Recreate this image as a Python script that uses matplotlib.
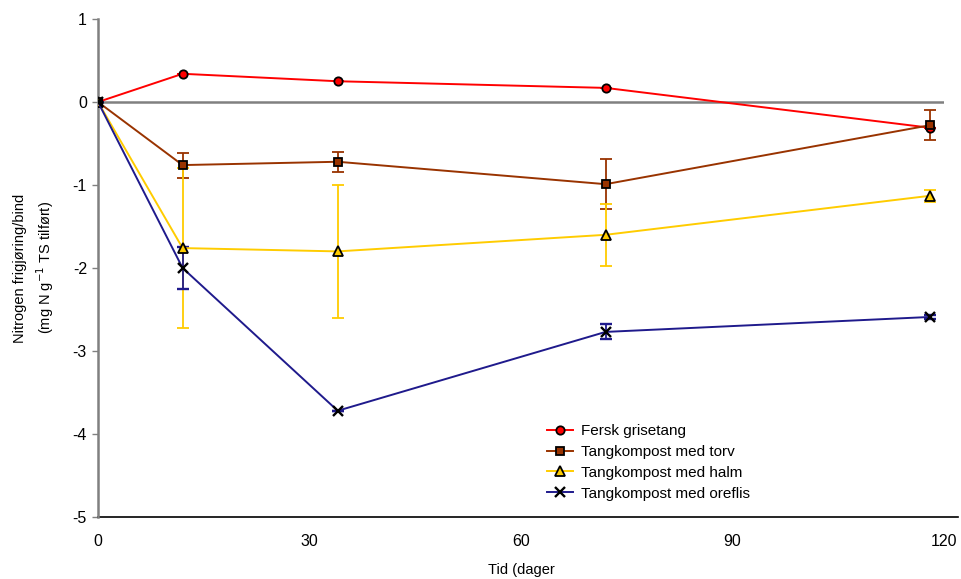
import matplotlib
matplotlib.use("Agg")
import matplotlib.pyplot as plt
from matplotlib.lines import Line2D

plt.rcParams['font.family'] = ['Liberation Sans', 'DejaVu Sans']

days = [0, 12, 34, 72, 118]

labels = ["Fersk grisetang", "Tangkompost med torv",
          "Tangkompost med halm", "Tangkompost med oreflis"]

fersk = [0, 0.34, 0.25, 0.17, -0.31]
fersk_err = [0, 0, 0, 0, 0]

torv = [0, -0.76, -0.72, -0.99, -0.28]
torv_err = [0, 0.15, 0.12, 0.30, 0.18]

halm = [0, -1.76, -1.80, -1.60, -1.13]
halm_err = [0, 0.96, 0.80, 0.37, 0.07]

oreflis = [0, -2.00, -3.72, -2.77, -2.59]
oreflis_err = [0, 0.25, 0.0, 0.09, 0.02]

xticks = [0, 30, 60, 90, 120]
yticks = [-5, -4, -3, -2, -1, 0, 1]

fig = plt.figure(figsize=(9.62, 5.79), dpi=100)
ax = fig.add_axes([98/962, 1-517/579, (944-98)/962, (517-19)/579])

series = [
    (fersk, fersk_err, '#FF0000', '#FF0000', 'o', 6),
    (torv, torv_err, '#993300', '#993300', 's', 6),
    (halm, halm_err, '#FFCC00', '#FFCC00', '^', 6.5),
    (oreflis, oreflis_err, '#1F1A8C', 'none', 'x', 7),
]

handles = []
for (vals, errs, col, fc, mk, ms), lab in zip(series, labels):
    mew = 1.3 if mk != 'x' else 1.7
    ax.errorbar(days, vals, yerr=errs, color=col, ecolor=col, elinewidth=1.3,
                capsize=4, capthick=1.3, lw=1.4, marker=mk, ms=ms,
                mfc=fc, mec='black', mew=mew, zorder=3)
    handles.append(Line2D([], [], color=col, lw=1.4, marker=mk, ms=ms,
                          mfc=fc, mec='black', mew=mew, label=lab))

ax.axhline(0, color='#808080', lw=1.8, zorder=1)

ax.set_xlim(0, 120)
ax.set_ylim(-5, 1)
ax.set_xticks(xticks)
ax.set_yticks(yticks)
ax.set_xticklabels([str(t) for t in xticks], fontsize=11.5)
ax.set_yticklabels([str(t) for t in yticks], fontsize=11.5)
ax.tick_params(axis='x', length=0, pad=12)
ax.tick_params(axis='y', length=4, width=1, color='#808080', direction='out', pad=4)

for s in ['top', 'right']:
    ax.spines[s].set_visible(False)
ax.spines['left'].set_color('#808080')
ax.spines['left'].set_linewidth(1.8)
ax.spines['bottom'].set_visible(False)
ax.add_line(Line2D([0, 1.017], [0, 0], transform=ax.transAxes, color='black',
                   lw=1.2, clip_on=False))

ax.set_xlabel("Tid (dager", fontsize=10.5, labelpad=10)
ax.set_ylabel("Nitrogen frigjøring/bind\n(mg N g$^{-1}$ TS tilført)", fontsize=10.5,
              labelpad=12, linespacing=1.4)

leg = ax.legend(handles=handles, loc='upper left', bbox_to_anchor=(0.523, 0.199),
                frameon=False, fontsize=11, handlelength=1.75, handletextpad=0.5,
                labelspacing=0.45, borderaxespad=0)

fig.savefig("out.png", dpi=100)
